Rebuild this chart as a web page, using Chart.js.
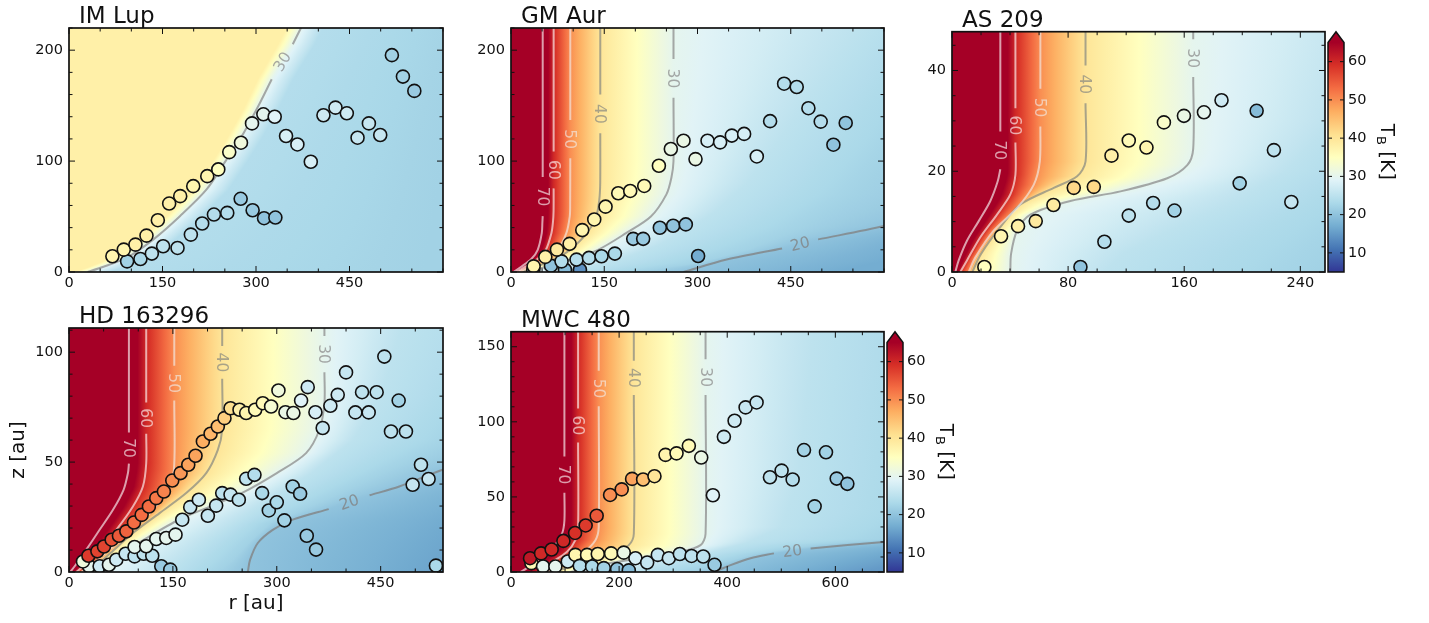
<!DOCTYPE html>
<html>
<head>
<meta charset="utf-8">
<title>Emission surfaces</title>
<script src="https://cdn.jsdelivr.net/npm/chart.js@4.4.1/dist/chart.umd.min.js"></script>
<style>
  html, body { margin: 0; background: #fff; }
  body { width: 1429px; height: 623px; position: relative; overflow: hidden; }
  canvas { position: absolute; }
</style>
</head>
<body>
<canvas id="imlup"></canvas>
<canvas id="gmaur"></canvas>
<canvas id="as209"></canvas>
<canvas id="hd163296"></canvas>
<canvas id="mwc480"></canvas>
<script>
// points are [r (au), z (au), T_B (K)]
const imLupUpper = [[69.6,14.2,37],[87.9,20.2,37],[106.6,24.7,38],[124.3,32.8,38],[142.5,46.7,38],[160.7,61.7,38],[178.4,68.4,38],[199.3,77.4,37],[221.8,86.4,37],[239.5,92.5,35],[257.1,108.1,34],[275.9,116.6,32],[293.6,134,30],[311.8,142.2,30],[330,140,29],[348.2,122.6,28],[366.4,115,28],[387.9,99.4,28],[408.2,141.3,27],[427.5,148.2,27],[445.7,143.1,27],[462.9,121.1,26],[481.1,134,26],[499.3,123.5,26],[518,195.5,22],[535.7,176.2,22],[554,163.3,21]];
const imLupLower = [[93.2,9.6,22],[114.6,11.7,23],[132.9,16.6,25],[151,23.2,25],[174.1,21.7,25],[195.5,33.7,25],[213.7,43.7,24],[232.5,51.8,24],[253.9,53.3,24],[275.4,66,21],[294.6,55.7,21],[312.9,48.5,20],[331.1,49.1,20]];

const gmAurUpper = [[36.4,5.1,37],[55.2,13.6,38],[73.9,20.2,39],[94.3,25.4,38],[114.6,37.8,37],[133.9,47.4,37],[152.1,58.9,37],[172.5,71,36],[191.8,73.1,36],[214.3,77.6,36],[237.9,95.8,35],[257.1,110.9,31],[277.5,118.4,31],[296.8,101.8,31],[316.1,118.4,28],[336.4,116.9,28],[355.2,123,28],[375,124.5,28],[395.4,104.2,28],[416.8,136,24],[439.3,169.8,24],[459.6,166.8,24],[478.4,147.7,24],[498.2,135.6,24],[518.6,114.8,20],[538.4,134.4,20]];
const gmAurLower = [[35.8,2.1,23],[64.3,5.7,20],[86.8,2.1,19],[110.9,2.1,14],[81.3,9.6,24],[105.4,11.2,24],[125.4,12.7,24],[145.6,14.2,23],[167.1,16.6,23],[196.6,29.9,21],[212.6,29.9,21],[239.4,39.9,20],[260.8,41.7,20],[281.2,42.9,20],[301,14.4,17]];

const as209Upper = [[22.3,1,35],[33.8,7.1,37],[45.5,9.1,38],[57.7,10.1,39],[69.9,13.3,39],[83.9,16.7,42],[97.7,16.9,42],[109.9,23.1,38],[121.8,26.1,36],[134,24.7,37],[146,29.7,34],[159.8,31,31],[173.6,31.7,30],[185.7,34.1,27],[209.9,32,19],[221.8,24.2,25],[198.2,17.6,22],[233.8,13.9,26]];
const as209Lower = [[88.5,1,20],[105,6,24],[121.8,11.2,25],[138.6,13.7,24],[153.3,12.2,22]];

const hdUpper = [[28,7.4,58],[41,9.4,57],[50.5,11.6,57],[61.6,14.7,56],[72.1,16.5,55],[82.8,18.5,54],[93.8,22.5,53],[104.9,26,53],[115.4,29.8,53],[126,33.6,52],[137,36.6,51],[149.1,41.6,50],[161.1,45,49],[172.2,48.8,48],[182.7,52.9,48],[193.3,59.4,47],[204.4,62.9,46],[214.9,66.2,45],[224.5,70,43],[233.2,74.5,41],[246.2,73.8,38],[255.8,72.3,37],[268.8,73.8,36],[279.8,76.8,36],[291.8,75.3,33],[302.4,82.6,32],[312.5,72.7,31],[324,72.3,31],[335.1,78,29],[344.7,84.1,27],[355.8,72.7,28],[366.3,65.5,26],[377.4,75.6,27],[388,80.6,27],[400,90.8,26],[413.5,72.6,26],[423.1,81.8,25],[432.7,72.6,26],[444.2,81.8,25],[455.3,98,25],[464.9,63.9,25],[476,78,22],[486.5,63.9,25],[496.2,39.7,26],[508.2,48.8,25],[519.2,42.3,26],[529.8,2.9,23]];
const hdLower = [[28.8,2.6,30],[44.2,2.6,27],[57.7,3.3,30],[68.3,5.6,27],[81.7,8.3,26],[94.7,7.1,25],[107.7,8.3,25],[120.2,7.4,25],[94.7,11.4,30],[111.5,11.7,30],[126,15,30],[140.4,15.5,30],[153.8,17,30],[133.2,2.6,21],[146.2,1.1,21],[163.5,23.8,26],[175,29.5,26],[187.5,32.9,27],[200.5,25.6,26],[212.5,30.2,26],[221.2,35.9,25],[233.2,35.2,26],[245.2,32.9,25],[255.8,42.4,25],[267.8,44.2,24],[278.8,35.9,23],[288.5,28,22],[300,31.7,23],[311,23.5,22],[323,38.9,22],[333.7,35.6,21],[343.3,16.5,21],[356.7,10.2,21],[20.2,4.8,32]];

const mwcUpper = [[35.2,9.2,62],[55.6,12.4,60],[75.2,15,60],[96.9,20.7,60],[118.5,26,59],[138.1,31,58],[158.5,37.5,55],[183.3,51.3,50],[204.8,55,50],[224,62,48],[244.4,61.6,45],[265.4,63.8,40],[285.8,78,37],[306.2,79,36],[329,84,36],[351.9,76.2,31],[373.5,51.1,29],[393.8,90,27],[413.6,100.7,27],[434,109.6,26],[454.3,112.9,26],[479,63.1,25],[500.6,67.5,25],[521,61.6,24],[542,81.2,22],[561.7,43.7,22],[582.7,79.7,22],[602.5,62.2,21],[622.2,58.7,20]];
const mwcLower = [[37.7,5.9,36],[59.3,3.7,30],[82.1,3.7,30],[105,7,27],[119.1,11.4,37],[140.7,11.4,36],[160.5,12,37],[185.2,12.4,36],[208.6,12.9,31],[230.2,9.2,28],[251.9,6.3,26],[271.6,11.4,26],[292,9.2,26],[312.3,12,25],[334,10.7,25],[355.6,10.3,25],[376.5,4.8,21],[127.2,4.1,24],[150,3.7,23],[171.6,2.6,22],[196.3,2,20],[217.9,1.1,19]];

// isotherms as [r, z], top to bottom; null marks the gap for the label
const imLup30 = [[373,221],[359,205.4],null,[325.2,173.8],[301,146.7],[274.3,119.6],[252.9,101.5],[220.7,74.4],[177.9,50.3],[135,29.2],[92.1,12.7],[49.3,3.6],[30,0]];
const imLupFill38 = [[350,221],[335,205],[303,174],[280,147],[253,120],[232,101],[199,74],[156,50],[113,29],[70,13],[28,3.6],[8,0]];
const imLupFill24 = [[408,221],[394,205],[360,174],[336,147],[309,120],[288,101],[256,74],[213,50],[170,29],[127,13],[85,3.6],[65,0]];
const imLupFill22 = [[640,221],[600,100],[570,0]];

const gmAur70 = [[51,221],[51,85.6],null,[51,50.4],[50.5,45],[49.5,35],[43,20],[33,12],[17,5],[4,0]];
const gmAur60 = [[68.6,221],[68.6,108.6],null,[68.6,75.4],[68.5,55],[67.5,45],[65,35],[56,20],[43,12],[24,5],[8,0]];
const gmAur50 = [[95.4,221],[95.4,137],null,[95.4,102.5],[95.2,60],[94.5,50],[89,35],[75,20],[55,12],[32,5],[13,0]];
const gmAur40 = [[143.6,221],[143.6,160],null,[143.6,125],[143.5,80],[142,65],[137,50],[122,35],[95,20],[72,12],[42,5],[19,0]];
const gmAur30 = [[261.4,221],[261.4,192],null,[261.4,157],[261.4,100],[258,85],[250,70],[225,50],[185,35],[140,20],[100,12],[58,5],[27,0]];
const gmAur20 = [[277.5,0],[347,11.2],[436,21.2],null,[494,29.4],[600,41.4],[700,57],[1000,130],[1400,221]];
const gmAurFill25 = [[560,221],[470,150],[420,110],[380,80],[330,55],[290,40],[240,25],[180,12],[120,3],[100,0]];
const gmAurFill22 = [[760,221],[640,120],[560,70],[470,40],[380,20],[300,8],[200,0]];
const gmAurFill17 = [[1000,221],[800,60],[600,10],[520,0]];

const as20970 = [[33.3,47.7],[33.3,27.9],null,[33.3,20.4],[31.5,18],[26.4,14.1],[18.4,10.1],[10.3,6.2],[4.6,2.3],[2.3,0]];
const as20960 = [[43.7,47.7],[43.7,32.5],null,[43.7,25.7],[43.7,19.3],[40.2,15.4],[31,11.4],[19.5,6.9],[10.3,2.3],[5.7,0]];
const as20950 = [[60.9,47.7],[60.9,36.4],null,[60.9,28.9],[60.5,21.9],[56.3,17.3],[44.8,12.7],[28.7,8.2],[16.1,2.9],[11.5,0]];
const as20940 = [[92,47.7],[92,41],null,[92,33.5],[92,21.9],[86.2,19],[70.1,16.7],[47.1,13.4],[33,8.8],[20,3.6],[14,0]];
const as20930 = [[166.2,47.7],[166.2,46.2],null,[166.2,38.7],[166.2,24.5],[162.1,21.2],[148.3,18.6],[116.1,16],[81.6,14.1],[54,11.4],[44.8,8.2],[40.7,3.6],[40.2,0]];
const as209Fill25 = [[290,47.7],[262,30],[230,20],[195,14],[155,9],[120,4],[105,0]];
const as209Fill22 = [[360,47.7],[320,20],[280,8],[250,0]];

const hd70 = [[86.5,111],[86.5,63.5],null,[86.5,49.3],[85.1,45],[78.8,37.4],[63.5,28.3],[44.2,19.2],[25,10.2],[8.2,2.6],[1.9,0]];
const hd60 = [[111.5,111],[111.5,77.1],null,[111.5,62.9],[111.5,49.5],[106.7,38.9],[92.3,29.8],[68.3,19.2],[44.2,10.2],[20.2,2.6],[10.6,0]];
const hd50 = [[152,111],[152,93.8],null,[152,78],[151.5,46.5],[142,37.4],[121.2,28.3],[92.3,19.2],[58.7,10.2],[29.8,2.6],[17.8,0]];
const hd40 = [[221.2,111],[221.2,102.8],null,[221.2,87.9],[221.2,64.7],[214.9,55.6],[198.1,45],[169.2,35.9],[130.8,26.8],[92.3,17.7],[60,8.6],[33,1.1],[28,0]];
const hd30 = [[368.8,111],[368.8,107.4],null,[368.8,90.9],[368.8,76.8],[361.5,64.7],[342.3,54.1],[300,45],[250,36],[205,30],[160,24],[115,16],[80,9],[55,3],[46,0]];
const hd20 = [[258.2,0],[261.5,5.6],[272.6,13.2],[294.2,19.2],[323,23.8],[375,28.6],null,[434,34.9],[476.9,38.9],[539.4,46.5],[621,54],[900,111]];
const hdFill25 = [[480,111],[450,80],[410,60],[350,45],[300,35],[250,25],[200,15],[160,5],[145,0]];
const hdFill22 = [[720,111],[560,60],[420,40],[350,30],[290,22],[265,15],[235,5],[215,0]];
const hdFill15 = [[600,0],[700,30],[900,111]];

const mwc70 = [[98.8,160],[98.8,76.9],null,[98.8,52.8],[98.8,34.3],[94.4,25.5],[79,16.8],[54.3,9.2],[29.6,2.6],[17.3,0]];
const mwc60 = [[124.1,160],[124.1,108.9],null,[124.1,86.3],[124.1,29.9],[119.1,21.2],[103.7,13.5],[72.8,5.9],[48.1,0]];
const mwc50 = [[162.3,160],[162.3,134],null,[162.3,110.3],[162.3,29.9],[156.2,21.2],[134.6,13.5],[97.5,7],[66.7,0]];
const mwc40 = [[227.2,160],[227.2,140.6],null,[227.2,117.9],[227.2,25.5],[217.9,17.9],[190.1,12.4],[140.7,7],[91.4,1.5],[85.2,0]];
const mwc30 = [[359.9,160],[359.9,141.6],null,[359.9,117.9],[359.9,25.5],[350.6,17.9],[313.6,13.5],[239.5,9.2],[165.4,4.8],[109.9,0]];
const mwc20 = [[375.3,0],[400,3.7],[443.2,9.2],[486.4,12.4],null,[554.3,15.7],[691.4,20.1],[770,22.3],[1200,40],[1500,160]];
const mwcFill25 = [[560,160],[530,60],[500,30],[440,20],[380,14],[300,7],[220,0]];
const mwcFill22 = [[850,160],[800,40],[700,22],[560,18],[450,12],[380,5],[330,0]];
const mwcFill15 = [[650,0],[900,20],[1500,160]];

const ticks150 = [0, 150, 300, 450];
const ticks80 = [0, 80, 160, 240];
const ticks200 = [0, 200, 400, 600];
const cbTicks = [10, 20, 30, 40, 50, 60];
const cbRange = [5, 65];

// RdYlBu reversed
const rdylbu = ['#313695','#4575b4','#74add1','#abd9e9','#e0f3f8','#ffffbf','#fee090','#fdae61','#f46d43','#d73027','#a50026'];
const lineColors = {70:'rgba(255,255,255,0.62)', 60:'rgba(255,255,255,0.62)', 50:'rgba(240,240,240,0.62)', 40:'rgba(140,140,130,0.75)', 30:'rgba(140,140,140,0.75)', 20:'rgba(130,130,130,0.78)'};
const FONT = "'DejaVu Sans', sans-serif";

const panels = [
  {id:'imlup', title:'IM Lup', left:69, top:28, w:374, x:[0,600], y:[0,220], xt:ticks150, yt:[0,100,200], xm:50, ym:20,
   pts:[imLupUpper, imLupLower], lines:[[30, imLup30]],
   fill:[[38, imLupFill38],[30, imLup30],[24, imLupFill24],[22, imLupFill22]]},
  {id:'gmaur', title:'GM Aur', left:511, top:28, w:373, x:[0,600], y:[0,220], xt:ticks150, yt:[0,100,200], xm:50, ym:20,
   pts:[gmAurUpper, gmAurLower], lines:[[70,gmAur70],[60,gmAur60],[50,gmAur50],[40,gmAur40],[30,gmAur30],[20,gmAur20]],
   fill:[[70,gmAur70],[60,gmAur60],[50,gmAur50],[40,gmAur40],[30,gmAur30],[25,gmAurFill25],[22,gmAurFill22],[20,gmAur20],[17,gmAurFill17]]},
  {id:'as209', title:'AS 209', left:952, top:28, w:373, x:[0,257], y:[0,47.7], xt:ticks80, yt:[0,20,40], xm:20, ym:5, cb:true,
   pts:[as209Upper, as209Lower], lines:[[70,as20970],[60,as20960],[50,as20950],[40,as20940],[30,as20930]],
   fill:[[70,as20970],[60,as20960],[50,as20950],[40,as20940],[30,as20930],[25,as209Fill25],[22,as209Fill22]]},
  {id:'hd163296', title:'HD 163296', left:69, top:328, w:374, x:[0,540], y:[0,111], xt:ticks150, yt:[0,50,100], xm:50, ym:10, labels:true,
   pts:[hdUpper, hdLower], lines:[[70,hd70],[60,hd60],[50,hd50],[40,hd40],[30,hd30],[20,hd20]],
   fill:[[70,hd70],[60,hd60],[50,hd50],[40,hd40],[30,hd30],[25,hdFill25],[22,hdFill22],[20,hd20],[15,hdFill15]]},
  {id:'mwc480', title:'MWC 480', left:511, top:328, w:373, x:[0,690], y:[0,160], xt:ticks200, yt:[0,50,100,150], xm:50, ym:10, cb:true,
   pts:[mwcUpper, mwcLower], lines:[[70,mwc70],[60,mwc60],[50,mwc50],[40,mwc40],[30,mwc30],[20,mwc20]],
   fill:[[70,mwc70],[60,mwc60],[50,mwc50],[40,mwc40],[30,mwc30],[25,mwcFill25],[22,mwcFill22],[20,mwc20],[15,mwcFill15]]}
];

const H = 244, AXW = 69, AXH = 50, TOPPAD = 28, CBW = 100;

function hex(c) { return [1,3,5].map(i => parseInt(c.substr(i,2),16)); }
const cmapNodes = rdylbu.map(hex);
function cmap(t) {
  let f = (t - cbRange[0]) / (cbRange[1] - cbRange[0]) * 10;
  f = Math.max(0, Math.min(10, f));
  const i = Math.min(9, Math.floor(f)), u = f - i;
  const a = cmapNodes[i], b = cmapNodes[i+1];
  return 'rgb(' + a.map((v,k) => Math.round(v + u*(b[k]-v))).join(',') + ')';
}

function rAt(line, z) {
  const pts = line.filter(p => p);
  for (let i = 0; i < pts.length - 1; i++) {
    const a = pts[i], b = pts[i+1];
    if (z <= Math.max(a[1], b[1]) && z >= Math.min(a[1], b[1])) {
      if (a[1] === b[1]) return a[0];
      return a[0] + (z - a[1]) / (b[1] - a[1]) * (b[0] - a[0]);
    }
  }
  let top = pts[0], bot = pts[0];
  pts.forEach(p => { if (p[1] > top[1]) top = p; if (p[1] < bot[1]) bot = p; });
  return z > top[1] ? top[0] : bot[0];
}

function drawField(chart, p) {
  const {ctx, chartArea: a} = chart, xs = chart.scales.x, ys = chart.scales.y;
  ctx.save();
  for (let py = Math.floor(a.top); py < Math.ceil(a.bottom); py++) {
    const z = ys.getValueForPixel(py + 0.5);
    let prev = -1e9;
    const stops = p.fill.map(([t, line]) => {
      const px = Math.max(prev, xs.getPixelForValue(rAt(line, z)));
      prev = px;
      return [px, t];
    });
    const x0 = stops[0][0], x1 = Math.max(stops[stops.length-1][0], x0 + 1);
    const g = ctx.createLinearGradient(x0, 0, x1, 0);
    const off = v => Math.max(0, Math.min(1, (v - x0) / (x1 - x0)));
    for (let i = 0; i < stops.length; i++) {
      const [pa, ta] = stops[i];
      if (i === stops.length - 1) { g.addColorStop(off(pa), cmap(ta)); break; }
      const [pb, tb] = stops[i+1];
      for (let k = 0; k < 6; k++) {
        const u = k / 6;
        g.addColorStop(off(pa + u*(pb - pa)), cmap(ta + u*(tb - ta)));
      }
    }
    ctx.fillStyle = g;
    ctx.fillRect(a.left, py, a.right - a.left, 1);
  }
  ctx.restore();
}

function drawLabels(chart, p) {
  const {ctx, chartArea: a} = chart, xs = chart.scales.x, ys = chart.scales.y;
  ctx.save();
  ctx.beginPath(); ctx.rect(a.left, a.top, a.right - a.left, a.bottom - a.top); ctx.clip();
  ctx.font = '15.5px ' + FONT;
  ctx.textAlign = 'center'; ctx.textBaseline = 'middle';
  p.lines.forEach(([t, line]) => {
    const i = line.indexOf(null);
    if (i < 0) return;
    const q1 = line[i-1], q2 = line[i+1];
    const ax = xs.getPixelForValue(q1[0]), ay = ys.getPixelForValue(q1[1]);
    const bx = xs.getPixelForValue(q2[0]), by = ys.getPixelForValue(q2[1]);
    let ang = Math.atan2(by - ay, bx - ax);
    if (ang > Math.PI/2) ang -= Math.PI;
    if (ang < -Math.PI/2) ang += Math.PI;
    ctx.save();
    ctx.translate((ax + bx)/2, (ay + by)/2);
    ctx.rotate(ang);
    ctx.fillStyle = lineColors[t];
    ctx.fillText(String(t), 0, 1);
    ctx.restore();
  });
  ctx.restore();
}

function drawFrame(chart, p) {
  const {ctx, chartArea: a} = chart, xs = chart.scales.x, ys = chart.scales.y;
  ctx.save();
  ctx.strokeStyle = '#111';
  ctx.lineWidth = 1;
  const tick = (x1, y1, x2, y2) => { ctx.beginPath(); ctx.moveTo(x1, y1); ctx.lineTo(x2, y2); ctx.stroke(); };
  for (let v = p.x[0]; v <= p.x[1]; v += p.xm) {
    const px = xs.getPixelForValue(v), len = p.xt.includes(v) ? 6 : 3.5;
    tick(px, a.bottom, px, a.bottom - len); tick(px, a.top, px, a.top + len);
  }
  for (let v = p.y[0]; v <= p.y[1]; v += p.ym) {
    const py = ys.getPixelForValue(v), len = p.yt.includes(v) ? 6 : 3.5;
    tick(a.left, py, a.left + len, py); tick(a.right, py, a.right - len, py);
  }
  ctx.lineWidth = 1.7;
  ctx.strokeRect(a.left, a.top, a.right - a.left, a.bottom - a.top);
  ctx.fillStyle = '#111';
  ctx.font = '23px ' + FONT;
  ctx.textAlign = 'left'; ctx.textBaseline = 'alphabetic';
  ctx.fillText(p.title, a.left + 10, a.top - 5);

  const cb = chart.scales.cb;
  if (cb) {
    const x0 = a.right + 3, w = 16;
    const yb = cb.getPixelForValue(cbRange[0]), yt = cb.getPixelForValue(cbRange[1]), tip = cb.getPixelForValue(cb.max);
    const g = ctx.createLinearGradient(0, yb, 0, yt);
    rdylbu.forEach((c, i) => g.addColorStop(i / 10, c));
    ctx.fillStyle = g;
    ctx.fillRect(x0, yt, w, yb - yt);
    ctx.fillStyle = rdylbu[10];
    ctx.beginPath(); ctx.moveTo(x0, yt + 0.5); ctx.lineTo(x0 + w/2, tip); ctx.lineTo(x0 + w, yt + 0.5); ctx.closePath(); ctx.fill();
    ctx.lineWidth = 1.5;
    ctx.beginPath();
    ctx.moveTo(x0, yb); ctx.lineTo(x0, yt); ctx.lineTo(x0 + w/2, tip); ctx.lineTo(x0 + w, yt); ctx.lineTo(x0 + w, yb); ctx.closePath();
    ctx.stroke();
    ctx.lineWidth = 1;
    cbTicks.forEach(v => {
      const py = cb.getPixelForValue(v);
      tick(x0, py, x0 + 4, py); tick(x0 + w, py, x0 + w - 4, py);
    });
    // T_B [K], reading top to bottom
    ctx.save();
    ctx.translate(x0 + w + 42, (a.top + a.bottom) / 2);
    ctx.rotate(Math.PI / 2);
    ctx.fillStyle = '#111';
    ctx.textBaseline = 'middle';
    ctx.font = '20px ' + FONT;
    const wT = ctx.measureText('T').width, wK = ctx.measureText(' [K]').width;
    ctx.font = '13px ' + FONT;
    const wB = ctx.measureText('B').width;
    let cx = -(wT + wB + wK) / 2;
    ctx.font = '20px ' + FONT; ctx.fillText('T', cx, 0); cx += wT;
    ctx.font = '13px ' + FONT; ctx.fillText('B', cx, 6); cx += wB;
    ctx.font = '20px ' + FONT; ctx.fillText(' [K]', cx, 0);
    ctx.restore();
  }
  ctx.restore();
}

Chart.defaults.font.family = FONT;
Chart.defaults.color = '#111';
Chart.defaults.animation = false;

panels.forEach(p => {
  const canvas = document.getElementById(p.id);
  const cw = AXW + p.w + (p.cb ? CBW + 5 : 20), chh = TOPPAD + H + AXH;
  canvas.width = cw; canvas.height = chh;
  canvas.style.left = (p.left - AXW) + 'px';
  canvas.style.top = (p.top - TOPPAD) + 'px';
  canvas.style.width = cw + 'px'; canvas.style.height = chh + 'px';

  const datasets = [];
  p.pts.forEach(arr => datasets.push({
    type: 'scatter',
    data: arr.map(q => ({x: q[0], y: q[1]})),
    pointRadius: 6.5,
    pointBorderWidth: 1.6,
    pointBorderColor: '#111',
    pointBackgroundColor: arr.map(q => cmap(q[2])),
    clip: 0,
    order: 0
  }));
  p.lines.forEach(([t, line]) => datasets.push({
    type: 'scatter',
    showLine: true,
    data: line.map(q => q ? {x: q[0], y: q[1]} : {x: NaN, y: NaN}),
    borderColor: lineColors[t],
    borderWidth: 2,
    pointRadius: 0,
    tension: 0.3,
    clip: 0,
    order: 1
  }));

  const tickFont = {size: 14.5, family: FONT};
  const scales = {
    x: {
      type: 'linear', min: p.x[0], max: p.x[1],
      grid: {display: false, drawTicks: false}, border: {display: false},
      ticks: {font: tickFont, padding: 3, maxRotation: 0, autoSkip: false},
      afterBuildTicks: s => { s.ticks = p.xt.map(v => ({value: v})); },
      afterFit: s => { s.height = AXH; },
      title: {display: !!p.labels, text: 'r [au]', font: {size: 20, family: FONT}, padding: {top: 0, bottom: 6}}
    },
    y: {
      type: 'linear', min: p.y[0], max: p.y[1],
      grid: {display: false, drawTicks: false}, border: {display: false},
      ticks: {font: tickFont, padding: 6, autoSkip: false},
      afterBuildTicks: s => { s.ticks = p.yt.map(v => ({value: v})); },
      afterFit: s => { s.width = AXW; },
      title: {display: !!p.labels, text: 'z [au]', font: {size: 20, family: FONT}, padding: {top: 6.5, bottom: 0}}
    }
  };
  if (p.cb) {
    scales.cb = {
      type: 'linear', position: 'right', display: true,
      min: cbRange[0], max: cbRange[0] + (cbRange[1] - cbRange[0]) * H / (H - 11),
      grid: {display: false, drawTicks: false}, border: {display: false},
      ticks: {font: tickFont, padding: 23, autoSkip: false},
      afterBuildTicks: s => { s.ticks = cbTicks.map(v => ({value: v})); },
      afterFit: s => { s.width = CBW; }
    };
  }

  new Chart(canvas, {
    type: 'scatter',
    data: {datasets},
    options: {
      responsive: false,
      events: [],
      layout: {padding: {left: 0, top: TOPPAD, right: p.cb ? 5 : 20, bottom: 0}},
      plugins: {legend: {display: false}, tooltip: {enabled: false}, title: {display: false}},
      scales
    },
    plugins: [{
      id: 'art' + p.id,
      beforeDatasetsDraw: chart => drawField(chart, p),
      afterDatasetsDraw: chart => drawLabels(chart, p),
      afterDraw: chart => drawFrame(chart, p)
    }]
  });
});
</script>
</body>
</html>
